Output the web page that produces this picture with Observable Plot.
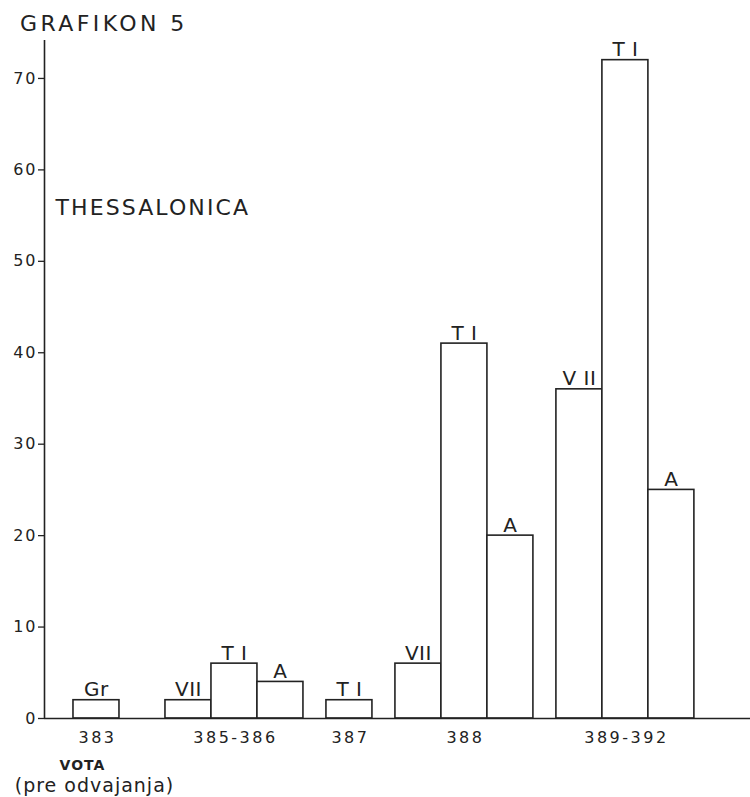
<!DOCTYPE html>
<html>
<head>
<meta charset="utf-8">
<script src="https://cdn.jsdelivr.net/npm/d3@7"></script>
<script src="https://cdn.jsdelivr.net/npm/@observablehq/plot@0.6"></script>
<style>
  html, body { margin: 0; padding: 0; background: #fff; }
  #wrap { width: 750px; height: 797px; position: relative; font-family: "DejaVu Sans", sans-serif; color: #222; }
  #title { height: 40px; box-sizing: border-box; padding-left: 20px; padding-top: 11px; font-size: 22px; letter-spacing: 3.4px; line-height: 26px; }
  svg { display: block; }
</style>
</head>
<body>
<div id="wrap">
  <div id="title">GRAFIKON 5</div>
  <div id="chart"></div>
</div>
<script>
// ---- data ----
const groups = ["383", "385-386", "387", "388", "389-392"];
const barLabels = ["Gr", "VII", "T I", "A", "T I", "VII", "T I", "A", "V II", "T I", "A"];
const barGroup = [0, 1, 1, 1, 2, 3, 3, 3, 4, 4, 4];
const values = [2, 2, 6, 4, 2, 6, 41, 20, 36, 72, 25];
const yTicks = [0, 10, 20, 30, 40, 50, 60, 70];
const cityName = "THESSALONICA";
const axisNote1 = "VOTA";
const axisNote2 = "(pre odvajanja)";

// ---- layout (slot units = one bar width) ----
const gapBefore = [0, 1, 0.5, 0.5, 0.5];
const bars = [];
let pos = 0;
barLabels.forEach((lab, i) => {
  if (i === 0 || barGroup[i] !== barGroup[i - 1]) pos += gapBefore[barGroup[i]];
  bars.push({label: lab, group: barGroup[i], value: values[i], x1: pos, x2: pos + 1});
  pos += 1;
});
const groupRows = groups.map((g, gi) => {
  const bs = bars.filter(b => b.group === gi);
  return {name: g, x: (d3.min(bs, b => b.x1) + d3.max(bs, b => b.x2)) / 2};
});

const xDomain = [-0.63, 14.72];
const yDomain = [0, 74.15];
const font = "DejaVu Sans, sans-serif";

const plot = Plot.plot({
  width: 750,
  height: 757,
  marginLeft: 44,
  marginRight: 0,
  marginTop: 0,
  marginBottom: 79,
  style: {fontFamily: font, background: "#fff", color: "#222", overflow: "visible"},
  x: {domain: xDomain, axis: null},
  y: {domain: yDomain, axis: null},
  marks: [
    Plot.axisY({ticks: yTicks, label: null, tickSize: 6, stroke: "#222", strokeWidth: 1.3, tickFormat: () => ""}),
    Plot.text(yTicks, {x: () => xDomain[0], y: d => d, text: d => String(d), textAnchor: "end", dx: -7, fontSize: 16, fill: "#222"}),
    Plot.rectY(bars, {x1: "x1", x2: "x2", y: "value", fill: "#fff", stroke: "#222", strokeWidth: 1.6}),
    Plot.ruleY([0], {stroke: "#222", strokeWidth: 1.6}),
    Plot.ruleX([xDomain[0]], {stroke: "#222", strokeWidth: 1.6}),
    Plot.text(bars, {x: d => (d.x1 + d.x2) / 2, y: "value", text: "label", lineAnchor: "bottom", dy: -4, fontSize: 20, fill: "#222"}),
    Plot.text(groupRows, {x: "x", y: () => 0, text: "name", lineAnchor: "middle", dy: 19, dx: 1, fontSize: 16, fill: "#222"}),
    Plot.text([axisNote1], {x: () => bars[0].x1 + 0.5, y: () => 0, text: d => d, lineAnchor: "middle", dy: 47, dx: -14, fontSize: 14, fontWeight: "bold", fill: "#222"}),
    Plot.text([axisNote2], {x: () => bars[0].x1 + 0.5, y: () => 0, text: d => d, lineAnchor: "middle", dy: 67, dx: -2, fontSize: 19, fill: "#222"}),
    Plot.text([cityName], {frameAnchor: "top-left", text: d => d, textAnchor: "start", lineAnchor: "middle", dx: 11, dy: 167, fontSize: 22, fill: "#222"})
  ]
});
document.getElementById("chart").appendChild(plot);
const allText = d3.select(plot).selectAll("text");
const spacing = (list, v) => allText.filter(function () { return list.includes(this.textContent); }).style("letter-spacing", v);
spacing([cityName], "2.1px");
spacing(groups, "2.5px");
spacing(barLabels, "0.5px");
spacing([axisNote1], "1px");
spacing([axisNote2], "1px");
spacing(yTicks.map(String), "2px");
</script>
</body>
</html>
